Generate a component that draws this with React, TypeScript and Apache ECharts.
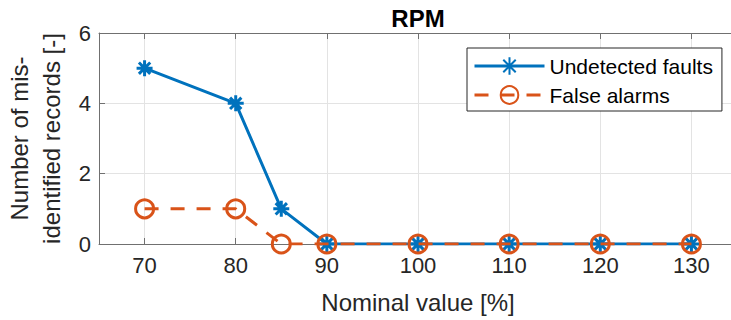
import React, { useEffect, useRef } from "react";
import * as echarts from "echarts";

const nominal = [70, 80, 85, 90, 100, 110, 120, 130];
const undetected = [5, 4, 1, 0, 0, 0, 0, 0];
const falseAlarms = [1, 1, 0, 0, 0, 0, 0, 0];
const xTicks = [70, 80, 90, 100, 110, 120, 130];
const yTicks = [0, 2, 4, 6];

const BLUE = "#0072BD";
const ORANGE = "#D95319";
const AXIS = "#707070";
const TEXT = "#262626";
const GRIDC = "#e3e3e3";
const FONT = "Liberation Sans, Arial, Helvetica, sans-serif";

const asterisk =
  "path://M0,-10 L0,10 M-10,0 L10,0 M-7.07,-7.07 L7.07,7.07 M-7.07,7.07 L7.07,-7.07";

export default function App() {
  const ref = useRef<HTMLDivElement>(null);
  useEffect(() => {
    if (!ref.current) return;
    const chart = echarts.init(ref.current, undefined, { renderer: "svg" });
    chart.setOption({
      animation: false,
      backgroundColor: "#ffffff",
      title: {
        text: "RPM",
        left: 418,
        textAlign: "center",
        top: 6,
        padding: 0,
        textStyle: { fontFamily: FONT, fontSize: 24, fontWeight: "bold", color: "#000" },
      },
      grid: {
        left: 99,
        top: 33,
        width: 638,
        height: 211,
        containLabel: false,
        outerBoundsMode: "none",
      },
      legend: {
        orient: "vertical",
        left: 467,
        top: 48,
        padding: [6, 9, 4, 6],
        itemGap: 5,
        itemWidth: 70,
        itemHeight: 22,
        borderColor: TEXT,
        borderWidth: 1,
        backgroundColor: "#ffffff",
        lineStyle: { width: 3 },
        textStyle: { fontFamily: FONT, fontSize: 21, color: "#000", lineHeight: 24 },
        data: ["Undetected faults", "False alarms"],
      },
      xAxis: [
        {
          type: "value",
          min: 65,
          max: 135,
          name: "Nominal value [%]",
          nameLocation: "middle",
          nameGap: 46,
          nameTextStyle: { fontFamily: FONT, fontSize: 24, color: TEXT },
          axisLine: { show: true, lineStyle: { color: AXIS, width: 1 } },
          axisTick: { show: true, inside: true, length: 6, customValues: xTicks, lineStyle: { color: AXIS } },
          axisLabel: {
            customValues: xTicks,
            margin: 10,
            fontFamily: FONT,
            fontSize: 22,
            color: TEXT,
          },
          splitLine: { show: true, lineStyle: { color: GRIDC, width: 1 } },
        },
        {
          type: "value",
          position: "top",
          min: 65,
          max: 135,
          axisLine: { show: true, onZero: false, lineStyle: { color: AXIS, width: 1 } },
          axisTick: { show: true, inside: true, length: 6, customValues: xTicks, lineStyle: { color: AXIS } },
          axisLabel: { show: false, customValues: xTicks },
          splitLine: { show: false },
        },
      ],
      yAxis: {
        type: "value",
        min: 0,
        max: 6,
        interval: 2,
        name: "Number of mis-\nidentified records [-]",
        nameLocation: "middle",
        nameRotate: 90,
        nameGap: 24,
        nameTextStyle: { fontFamily: FONT, fontSize: 24, color: TEXT, lineHeight: 32 },
        axisLine: { show: true, lineStyle: { color: AXIS, width: 1 } },
        axisTick: { show: true, inside: true, length: 6, lineStyle: { color: AXIS } },
        axisLabel: {
          margin: 8,
          fontFamily: FONT,
          fontSize: 22,
          color: TEXT,
          customValues: yTicks,
        },
        splitLine: { show: true, lineStyle: { color: GRIDC, width: 1 } },
      },
      series: [
        {
          name: "Undetected faults",
          type: "line",
          data: nominal.map((x, i) => [x, undetected[i]]),
          symbol: asterisk,
          symbolSize: 16,
          color: BLUE,
          lineStyle: { color: BLUE, width: 3, type: "solid" },
          itemStyle: { color: BLUE, borderColor: BLUE, borderWidth: 3 },
          z: 2,
        },
        {
          name: "False alarms",
          type: "line",
          data: nominal.map((x, i) => [x, falseAlarms[i]]),
          symbol: "circle",
          symbolSize: 18,
          color: ORANGE,
          lineStyle: { color: ORANGE, width: 3, type: [14, 12] },
          itemStyle: { color: "rgba(0,0,0,0)", borderColor: ORANGE, borderWidth: 3 },
          z: 3,
        },
      ],
    });
    return () => chart.dispose();
  }, []);
  return (
    <div
      ref={ref}
      style={{ position: "fixed", left: 0, top: 0, width: 745, height: 320 }}
    />
  );
}
